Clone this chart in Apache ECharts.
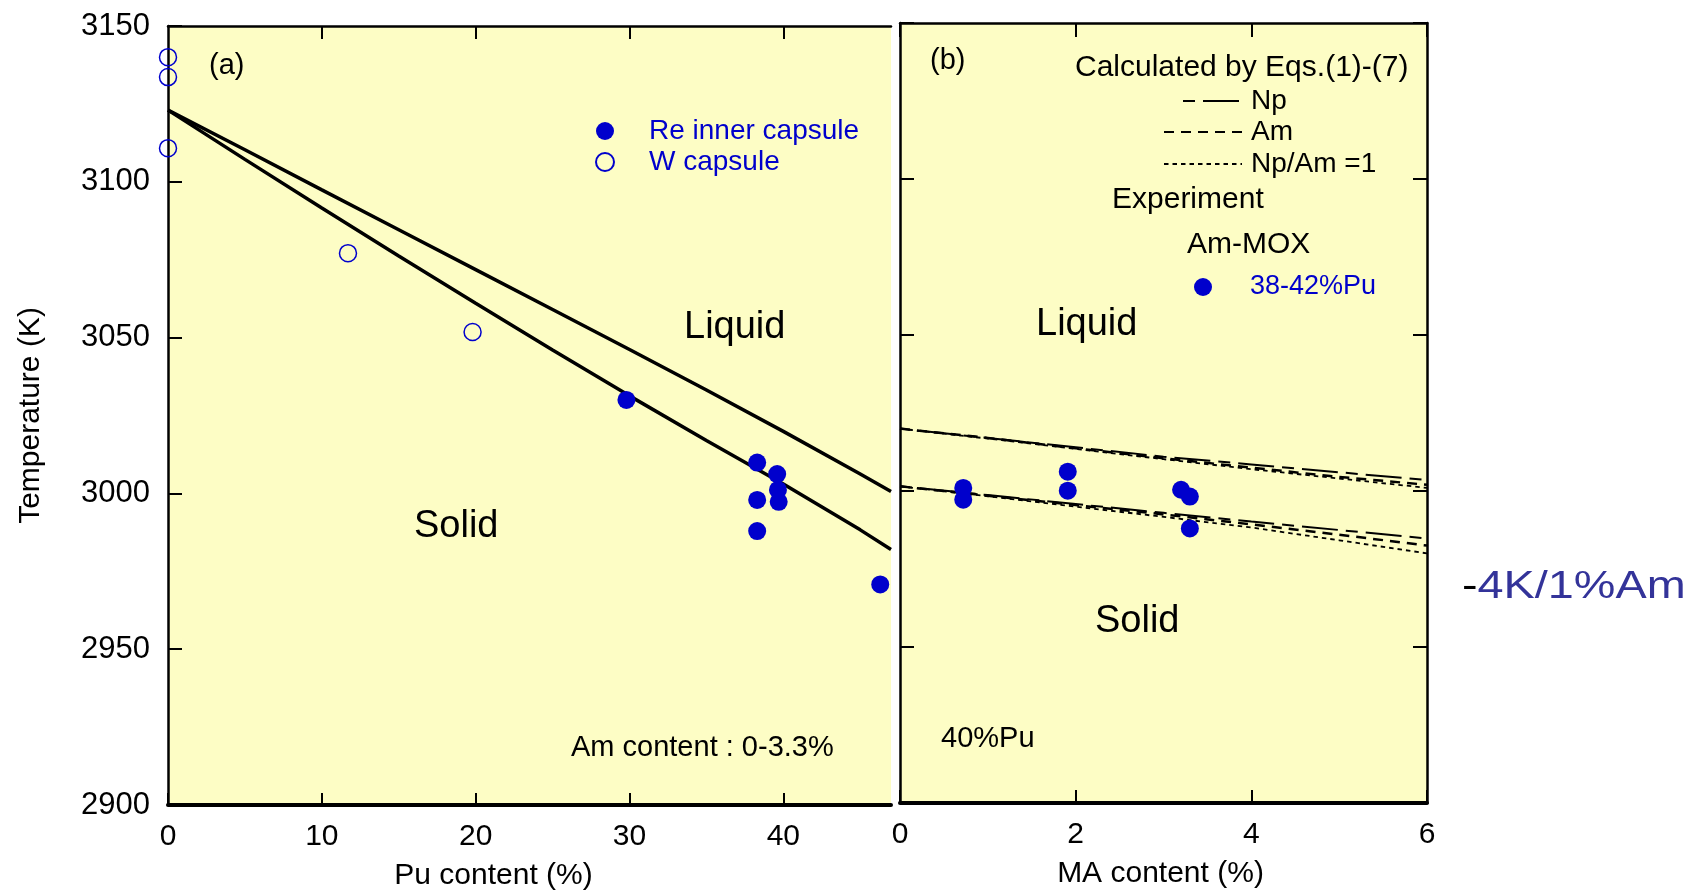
<!DOCTYPE html>
<html><head><meta charset="utf-8">
<script src="https://cdn.jsdelivr.net/npm/echarts@6/dist/echarts.min.js"></script>
<style>html,body{margin:0;padding:0;background:#fff}#c{width:1695px;height:891px}</style>
</head><body><div id="c"></div>
<script>
// ---------------- data ----------------
const puTickValues = [0, 10, 20, 30, 40];
const puTopTicks = [10, 20, 30, 40];
const maTickValues = [0, 2, 4, 6];

// panel (a): calculated liquidus / solidus vs Pu content
const puLineX   = [0, 5, 10, 15, 20, 25, 30, 35, 40, 45, 47];
const liquidusA = [3123, 3110.3, 3097.4, 3084.6, 3071.8, 3059, 3046.2, 3033.2, 3019.9, 3006.2, 3000.6];
const solidusA  = [3123, 3107.2, 3091.6, 3076.2, 3061, 3046, 3031.3, 3017, 3003, 2988.3, 2982];

// panel (a): experiments
const rePu   = [29.8, 38.3, 39.6, 39.65, 39.7, 38.3, 38.3, 46.3];
const reTemp = [3030.0, 3009.9, 3006.2, 3001.1, 2997.3, 2997.9, 2987.9, 2970.8];
const wPu    = [0, 0, 0, 11.7, 19.8];
const wTemp  = [3140, 3133.6, 3110.8, 3077.1, 3051.8];

// panel (b): calculated lines vs MA content
const maLineX      = [0, 1, 2, 3, 4, 5, 6];
const npUpper      = [3020, 3017, 3014, 3011, 3008.5, 3006, 3003.5];
const amUpper      = [3020, 3017, 3013.7, 3010.5, 3007.5, 3004.5, 3002];
const npAmUpper    = [3020, 3016.8, 3013.5, 3010.2, 3007, 3004, 3001];
const npLower      = [3001.5, 2998.7, 2995.8, 2993, 2990.2, 2987.5, 2984.8];
const amLower      = [3001.5, 2998.5, 2995.5, 2992.5, 2989.3, 2986, 2982.5];
const npAmLower    = [3001.5, 2998.3, 2995, 2991.7, 2988.3, 2984.2, 2980];

// panel (b): Am-MOX experiments
const moxMA   = [0.72, 0.72, 1.91, 1.91, 3.2, 3.3, 3.3];
const moxTemp = [3001.0, 2997.2, 3006.2, 3000.1, 3000.4, 2998.2, 2988.0];

// ---------------- chart ----------------
const FONT = 'Liberation Sans, Arial, Helvetica, sans-serif';
const BG = '#fdfdc5';
const BLUE = '#0000cc';
const zip = (xs, ys) => xs.map((x, i) => [x, ys[i]]);

const chart = echarts.init(document.getElementById('c'), null, {renderer: 'canvas'});

function lineSeries(name, xi, yi, xs, ys, dash, width) {
  return {
    name, type: 'line', xAxisIndex: xi, yAxisIndex: yi,
    data: zip(xs, ys), symbol: 'none', smooth: false, z: 3,
    lineStyle: {color: '#000', width: width, type: dash},
    itemStyle: {color: 'rgba(0,0,0,0)', borderWidth: 0}
  };
}

const yCommon = {
  type: 'value', min: 2900, max: 3150, interval: 50,
  splitLine: {show: false},
  axisLine: {show: true, onZero: false, lineStyle: {color: '#000', width: 2.5}},
  axisTick: {show: true, inside: true, length: 14, lineStyle: {color: '#000', width: 2}}
};

const legendText = (color, size, padLeft) => ({
  color, fontSize: size, fontFamily: FONT, lineHeight: 30, padding: [0, 0, 0, padLeft]
});

const txt = (x, y, text, size) => ({
  type: 'text', x, y,
  style: {text, fontSize: size, fontFamily: FONT, fill: '#000', align: 'left', verticalAlign: 'middle'}
});

const option = {
  animation: false,
  backgroundColor: '#fff',
  textStyle: {fontFamily: FONT},
  grid: [
    {left: 168, top: 26, width: 723, height: 779, show: true, backgroundColor: BG, borderWidth: 0,
     containLabel: false, outerBoundsMode: 'none'},
    {left: 900, top: 23, width: 527, height: 780, show: true, backgroundColor: BG, borderWidth: 0,
     containLabel: false, outerBoundsMode: 'none'}
  ],
  xAxis: [
    {
      gridIndex: 0, type: 'value', min: 0, max: 47, position: 'bottom',
      splitLine: {show: false},
      axisLine: {show: true, onZero: false, lineStyle: {color: '#000', width: 4}},
      axisTick: {show: true, inside: true, length: 12, customValues: puTickValues, lineStyle: {color: '#000', width: 2}},
      axisLabel: {show: true, customValues: puTickValues, color: '#000', fontSize: 30, fontFamily: FONT, margin: 17},
      name: 'Pu content (%)', nameLocation: 'middle', nameGap: 56,
      nameTextStyle: {color: '#000', fontSize: 30, fontFamily: FONT, padding: [0, 72, 0, 0]}
    },
    {
      gridIndex: 0, type: 'value', min: 0, max: 47, position: 'top',
      splitLine: {show: false},
      axisLine: {show: true, onZero: false, lineStyle: {color: '#000', width: 2.5}},
      axisTick: {show: true, inside: true, length: 13, customValues: puTopTicks, lineStyle: {color: '#000', width: 2}},
      axisLabel: {show: false}
    },
    {
      gridIndex: 1, type: 'value', min: 0, max: 6, interval: 2, position: 'bottom',
      splitLine: {show: false},
      axisLine: {show: true, onZero: false, lineStyle: {color: '#000', width: 4}},
      axisTick: {show: true, inside: true, length: 13, lineStyle: {color: '#000', width: 2}},
      axisLabel: {show: true, color: '#000', fontSize: 30, fontFamily: FONT, margin: 17},
      name: 'MA content (%)', nameLocation: 'middle', nameGap: 56,
      nameTextStyle: {color: '#000', fontSize: 30, fontFamily: FONT, padding: [0, 6, 0, 0]}
    },
    {
      gridIndex: 1, type: 'value', min: 0, max: 6, interval: 2, position: 'top',
      splitLine: {show: false},
      axisLine: {show: true, onZero: false, lineStyle: {color: '#000', width: 2.5}},
      axisTick: {show: true, inside: true, length: 14, lineStyle: {color: '#000', width: 2}},
      axisLabel: {show: false}
    }
  ],
  yAxis: [
    Object.assign({}, yCommon, {
      gridIndex: 0, position: 'left',
      axisLabel: {show: true, color: '#000', fontSize: 31, fontFamily: FONT, margin: 18, formatter: v => String(v)},
      name: 'Temperature (K)', nameLocation: 'middle', nameGap: 122,
      nameTextStyle: {color: '#000', fontSize: 30, fontFamily: FONT}
    }),
    Object.assign({}, yCommon, {gridIndex: 1, position: 'left', axisLabel: {show: false}}),
    Object.assign({}, yCommon, {gridIndex: 1, position: 'right', axisLabel: {show: false}})
  ],
  legend: [
    {
      data: ['Re inner capsule', 'W capsule'], orient: 'vertical', left: 595, top: 116,
      padding: 0, itemGap: 1, itemWidth: 18, itemHeight: 18, selectedMode: false,
      textStyle: legendText(BLUE, 28, 30)
    },
    {
      data: ['Np'], left: 1182, top: 86, padding: 0, itemWidth: 56, itemHeight: 2, selectedMode: false,
      textStyle: legendText('#000', 28, 7)
    },
    {
      data: ['Am'], left: 1163, top: 117, padding: 0, itemWidth: 78, itemHeight: 2, selectedMode: false,
      textStyle: legendText('#000', 28, 4)
    },
    {
      data: ['Np/Am =1'], left: 1163, top: 149, padding: 0, itemWidth: 78, itemHeight: 2, selectedMode: false,
      textStyle: legendText('#000', 28, 4)
    },
    {
      data: ['38-42%Pu'], left: 1194, top: 272, padding: 0, itemWidth: 18, itemHeight: 18, selectedMode: false,
      textStyle: legendText(BLUE, 27, 33)
    }
  ],
  series: [
    lineSeries('Liquidus', 0, 0, puLineX, liquidusA, 'solid', 3.5),
    lineSeries('Solidus', 0, 0, puLineX, solidusA, 'solid', 3.5),
    {
      name: 'Re inner capsule', type: 'scatter', xAxisIndex: 0, yAxisIndex: 0, z: 5, clip: false,
      symbol: 'circle', symbolSize: 18, data: zip(rePu, reTemp), itemStyle: {color: BLUE, opacity: 1}
    },
    {
      name: 'W capsule', type: 'scatter', xAxisIndex: 0, yAxisIndex: 0, z: 5, clip: false,
      symbol: 'circle', symbolSize: 17,
      data: zip(wPu, wTemp),
      itemStyle: {color: 'rgba(0,0,0,0)', borderColor: BLUE, borderWidth: 1.5, opacity: 1}
    },
    lineSeries('Np', 2, 1, maLineX, npUpper, [12, 8, 36, 8], 2),
    lineSeries('Np', 2, 1, maLineX, npLower, [12, 8, 36, 8], 2),
    lineSeries('Am', 2, 1, maLineX, amUpper, [10, 7], 2.5),
    lineSeries('Am', 2, 1, maLineX, amLower, [10, 7], 2.5),
    lineSeries('Np/Am =1', 2, 1, maLineX, npAmUpper, [4.5, 4], 1.8),
    lineSeries('Np/Am =1', 2, 1, maLineX, npAmLower, [4.5, 4], 1.8),
    {
      name: '38-42%Pu', type: 'scatter', xAxisIndex: 2, yAxisIndex: 1, z: 5, clip: false,
      symbol: 'circle', symbolSize: 18, data: zip(moxMA, moxTemp), itemStyle: {color: BLUE, opacity: 1}
    }
  ],
  graphic: [
    txt(209, 66, '(a)', 29),
    txt(930, 61, '(b)', 29),
    txt(684, 328, 'Liquid', 38),
    txt(414, 527, 'Solid', 38),
    txt(1036, 325, 'Liquid', 38),
    txt(1095, 622, 'Solid', 38),
    txt(571, 748, 'Am content : 0-3.3%', 29),
    txt(941, 739, '40%Pu', 29),
    txt(1075, 68, 'Calculated by Eqs.(1)-(7)', 30),
    txt(1112, 200, 'Experiment', 30),
    txt(1187, 245, 'Am-MOX', 30),
    {type: 'text', x: 1462, y: 587, scaleX: 1.2,
      style: {text: '{k|-}{b|4K/1%Am}', fontSize: 39, fontFamily: FONT, align: 'left', verticalAlign: 'middle',
        rich: {k: {fill: '#000', fontSize: 39, fontFamily: FONT}, b: {fill: '#333399', fontSize: 39, fontFamily: FONT}}}}
  ]
};

chart.setOption(option);
</script>
</body></html>
